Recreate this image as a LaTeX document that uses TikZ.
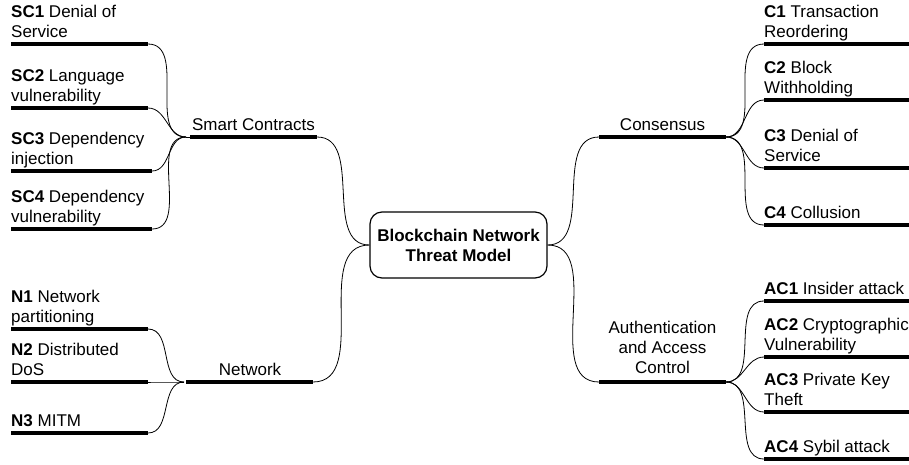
\documentclass[tikz,border=0pt]{standalone}
\usepackage{fontspec}
\setmainfont{Liberation Sans}
\begin{document}
\begin{tikzpicture}[x=1pt,y=-1pt,
  font=\fontsize{17}{20}\selectfont,
  bar/.style={line width=4pt},
  conn/.style={line width=0.8pt},
  lbl/.style={anchor=base west, inner sep=0pt, align=left},
  mid/.style={anchor=base, inner sep=0pt, align=center},
  rootbox/.style={draw, line width=1.2pt, rounded corners=12pt, minimum width=177pt, minimum height=66pt, align=center, inner sep=0pt, font=\fontsize{17}{20}\selectfont\bfseries}]
\useasboundingbox (0,0) rectangle (909,464);
\clip (0,0) rectangle (909,464);

% root
\node[rootbox] (root) at (458.5,245) {Blockchain Network\\Threat Model};

% ---- Smart Contracts ----
\coordinate (scL) at (190,137); \coordinate (scR) at (317,137); \coordinate (schub) at (186,137);
\draw[bar] (scL) -- (scR);
\node[mid] (sct) at (253.5,130) {Smart Contracts};
\draw[conn] (schub) -- (scL);
\draw[conn] (scR) to[out=0,in=180] (root.west);

\coordinate (sc1a) at (11,44); \coordinate (sc1b) at (148,44);
\coordinate (sc2a) at (11,108); \coordinate (sc2b) at (148,108);
\coordinate (sc3a) at (11,171); \coordinate (sc3b) at (152,171);
\coordinate (sc4a) at (11,229); \coordinate (sc4b) at (152,229);
\foreach \n in {sc1,sc2,sc3,sc4}{
  \draw[bar] (\n a) -- (\n b);
  \draw[conn] (\n b) to[out=0,in=180] (schub);
}
\node[lbl] (sc1t) at (11,37) {\textbf{SC1} Denial of\\Service};
\node[lbl] (sc2t) at (11,101) {\textbf{SC2} Language\\vulnerability};
\node[lbl] (sc3t) at (11,164) {\textbf{SC3} Dependency\\injection};
\node[lbl] (sc4t) at (11,222) {\textbf{SC4} Dependency\\vulnerability};

% ---- Network ----
\coordinate (nL) at (186,382); \coordinate (nR) at (313,382); \coordinate (nhub) at (184,382);
\draw[bar] (nL) -- (nR);
\node[mid] (nt) at (250,375) {Network};
\draw[conn] (nR) to[out=0,in=180] (root.west);

\coordinate (n1a) at (11,329); \coordinate (n1b) at (148,329);
\coordinate (n2a) at (11,382); \coordinate (n2b) at (148,382);
\coordinate (n3a) at (11,433); \coordinate (n3b) at (148,433);
\foreach \n in {n1,n2,n3}{
  \draw[bar] (\n a) -- (\n b);
  \draw[conn] (\n b) to[out=0,in=180] (nhub);
}
\node[lbl] (n1t) at (11,322) {\textbf{N1} Network\\partitioning};
\node[lbl] (n2t) at (11,375) {\textbf{N2} Distributed\\DoS};
\node[lbl] (n3t) at (11,426) {\textbf{N3} MITM};

% ---- Consensus ----
\coordinate (cL) at (599,137); \coordinate (cR) at (726,137);
\draw[bar] (cL) -- (cR);
\node[mid] (ct) at (662.5,130) {Consensus};
\draw[conn] (root.east) to[out=0,in=180] (cL);

\coordinate (c1a) at (764,44); \coordinate (c1b) at (915,44);
\coordinate (c2a) at (764,100); \coordinate (c2b) at (915,100);
\coordinate (c3a) at (764,168); \coordinate (c3b) at (915,168);
\coordinate (c4a) at (764,225); \coordinate (c4b) at (915,225);
\foreach \n in {c1,c2,c3,c4}{
  \draw[bar] (\n a) -- (\n b);
  \draw[conn] (cR) to[out=0,in=180] (\n a);
}
\node[lbl] (c1t) at (764,37) {\textbf{C1} Transaction\\Reordering};
\node[lbl] (c2t) at (764,93) {\textbf{C2} Block\\Withholding};
\node[lbl] (c3t) at (764,161) {\textbf{C3} Denial of\\Service};
\node[lbl] (c4t) at (764,218) {\textbf{C4} Collusion};

% ---- Authentication and Access Control ----
\coordinate (aL) at (599,382); \coordinate (aR) at (726,382);
\draw[bar] (aL) -- (aR);
\node[mid] (at) at (662.5,373) {Authentication\\and Access\\Control};
\draw[conn] (root.east) to[out=0,in=180] (aL);

\coordinate (ac1a) at (764,301); \coordinate (ac1b) at (915,301);
\coordinate (ac2a) at (764,357); \coordinate (ac2b) at (915,357);
\coordinate (ac3a) at (764,412); \coordinate (ac3b) at (915,412);
\coordinate (ac4a) at (764,459); \coordinate (ac4b) at (915,459);
\foreach \n in {ac1,ac2,ac3,ac4}{
  \draw[bar] (\n a) -- (\n b);
  \draw[conn] (aR) to[out=0,in=180] (\n a);
}
\node[lbl] (ac1t) at (764,294) {\textbf{AC1} Insider attack};
\node[lbl] (ac2t) at (764,350) {\textbf{AC2} Cryptographic\\Vulnerability};
\node[lbl] (ac3t) at (764,405) {\textbf{AC3} Private Key\\Theft};
\node[lbl] (ac4t) at (764,452) {\textbf{AC4} Sybil attack};
\end{tikzpicture}
\end{document}
